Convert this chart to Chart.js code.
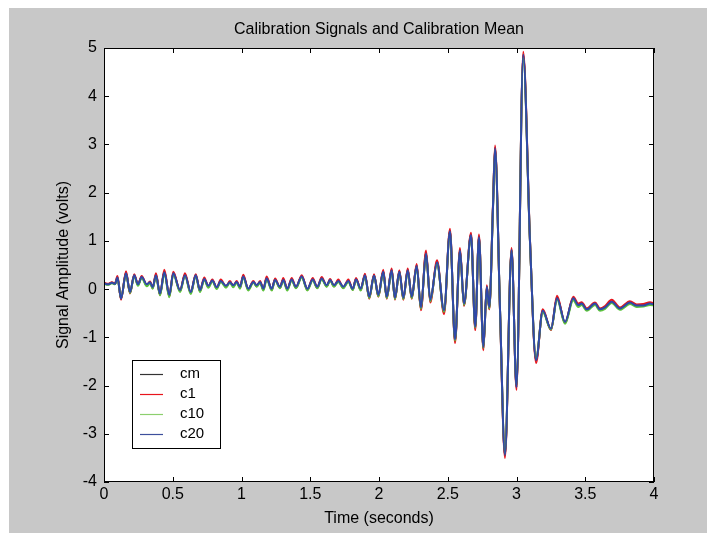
<!DOCTYPE html>
<html>
<head>
<meta charset="utf-8">
<title>Calibration Signals and Calibration Mean</title>
<script src="https://cdn.jsdelivr.net/npm/chart.js@4/dist/chart.umd.min.js"></script>
<style>
  body { margin: 0; background: #ffffff; }
  canvas { display: block; }
</style>
</head>
<body>
<canvas id="myChart" width="707" height="535"></canvas>
<script>
// time axis (seconds), shared by all four signals
const times = [
  0, 0.029, 0.058, 0.08, 0.098, 0.124, 0.16, 0.189, 0.22, 0.247,
  0.274, 0.311, 0.335, 0.354, 0.378, 0.407, 0.439, 0.475, 0.504, 0.553,
  0.589, 0.631, 0.667, 0.698, 0.729, 0.759, 0.788, 0.82, 0.849, 0.887,
  0.916, 0.94, 0.965, 0.989, 1.013, 1.049, 1.086, 1.111, 1.135, 1.159,
  1.183, 1.22, 1.244, 1.28, 1.304, 1.333, 1.365, 1.396, 1.438, 1.479,
  1.518, 1.551, 1.583, 1.62, 1.644, 1.673, 1.704, 1.74, 1.777, 1.809,
  1.833, 1.867, 1.898, 1.929, 1.964, 1.995, 2.031, 2.056, 2.092, 2.116,
  2.148, 2.177, 2.209, 2.238, 2.274, 2.305, 2.342, 2.373, 2.422, 2.473,
  2.516, 2.553, 2.589, 2.618, 2.669, 2.7, 2.727, 2.759, 2.784, 2.802,
  2.829, 2.844, 2.88, 2.916, 2.964, 3.0, 3.049, 3.098, 3.142, 3.191,
  3.251, 3.295, 3.353, 3.413, 3.449, 3.474, 3.511, 3.571, 3.607, 3.644,
  3.692, 3.753, 3.825, 3.874, 3.922, 3.971, 4.0,
];

// calibration mean (volts)
const cm = [
  0.12, 0.10, 0.13, 0.11, 0.24, -0.20, 0.34, -0.07, 0.29, 0.09,
  0.25, 0.08, 0.14, 0.02, 0.30, -0.11, 0.36, -0.14, 0.33, -0.04,
  0.30, -0.08, 0.29, -0.04, 0.21, 0.05, 0.18, 0.02, 0.17, 0.05,
  0.15, 0.06, 0.15, 0.03, 0.27, -0.01, 0.15, 0.06, 0.15, -0.01,
  0.23, -0.01, 0.20, 0.03, 0.20, -0.01, 0.20, 0.03, 0.26, -0.01,
  0.20, 0.03, 0.22, 0.06, 0.19, 0.06, 0.17, 0.03, 0.17, -0.01,
  0.21, -0.01, 0.29, -0.18, 0.29, -0.14, 0.37, -0.18, 0.40, -0.20,
  0.37, -0.20, 0.40, -0.18, 0.49, -0.41, 0.75, -0.25, 0.56, -0.48,
  1.21, -1.08, 0.81, -0.33, 1.13, -0.81, 1.09, -1.23, 0.05, -0.40,
  1.71, 2.93, -0.42, -3.45, 0.82, -2.04, 4.86, 1.00, -1.48, -0.45,
  -0.84, -0.18, -0.70, -0.19, -0.33, -0.30, -0.42, -0.30, -0.42, -0.38,
  -0.26, -0.40, -0.28, -0.34, -0.33, -0.30, -0.32,
];

const c1 = [
  0.13, 0.11, 0.14, 0.12, 0.27, -0.22, 0.37, -0.09, 0.31, 0.09,
  0.27, 0.08, 0.16, 0.02, 0.33, -0.12, 0.40, -0.15, 0.36, -0.04,
  0.33, -0.08, 0.31, -0.04, 0.24, 0.05, 0.20, 0.02, 0.20, 0.05,
  0.17, 0.06, 0.17, 0.03, 0.30, -0.01, 0.17, 0.06, 0.17, -0.01,
  0.26, -0.02, 0.22, 0.03, 0.23, -0.01, 0.23, 0.03, 0.29, -0.02,
  0.23, 0.03, 0.25, 0.06, 0.21, 0.06, 0.20, 0.03, 0.20, -0.01,
  0.23, -0.02, 0.32, -0.20, 0.31, -0.16, 0.40, -0.20, 0.43, -0.22,
  0.39, -0.22, 0.43, -0.20, 0.52, -0.44, 0.80, -0.28, 0.60, -0.52,
  1.25, -1.12, 0.85, -0.35, 1.17, -0.85, 1.13, -1.27, 0.08, -0.42,
  1.75, 2.98, -0.45, -3.50, 0.85, -2.09, 4.92, 1.02, -1.53, -0.42,
  -0.85, -0.14, -0.71, -0.16, -0.30, -0.27, -0.40, -0.28, -0.40, -0.35,
  -0.22, -0.38, -0.25, -0.32, -0.31, -0.27, -0.30,
];

const c10 = [
  0.11, 0.09, 0.12, 0.10, 0.22, -0.19, 0.31, -0.08, 0.27, 0.07,
  0.23, 0.06, 0.12, 0.01, 0.27, -0.13, 0.32, -0.17, 0.31, -0.06,
  0.27, -0.10, 0.27, -0.06, 0.19, 0.03, 0.16, 0.00, 0.15, 0.03,
  0.13, 0.04, 0.13, 0.01, 0.24, -0.03, 0.13, 0.05, 0.13, -0.03,
  0.20, -0.03, 0.18, 0.02, 0.17, -0.03, 0.18, 0.02, 0.24, -0.03,
  0.18, 0.02, 0.20, 0.05, 0.18, 0.05, 0.15, 0.02, 0.15, -0.02,
  0.19, -0.03, 0.27, -0.19, 0.27, -0.15, 0.34, -0.19, 0.37, -0.21,
  0.35, -0.21, 0.37, -0.19, 0.46, -0.41, 0.72, -0.25, 0.53, -0.47,
  1.17, -1.07, 0.78, -0.33, 1.10, -0.80, 1.05, -1.22, 0.03, -0.40,
  1.68, 2.88, -0.42, -3.40, 0.79, -2.00, 4.80, 0.98, -1.44, -0.48,
  -0.84, -0.22, -0.72, -0.23, -0.37, -0.33, -0.45, -0.33, -0.45, -0.41,
  -0.29, -0.43, -0.31, -0.37, -0.36, -0.33, -0.34,
];

const c20 = [
  0.12, 0.10, 0.13, 0.11, 0.24, -0.20, 0.33, -0.06, 0.29, 0.10,
  0.25, 0.10, 0.14, 0.04, 0.29, -0.09, 0.35, -0.12, 0.33, -0.02,
  0.29, -0.06, 0.29, -0.02, 0.21, 0.07, 0.18, 0.04, 0.17, 0.07,
  0.14, 0.08, 0.15, 0.05, 0.26, 0.01, 0.15, 0.08, 0.15, 0.01,
  0.22, 0.01, 0.19, 0.05, 0.19, 0.01, 0.20, 0.05, 0.26, 0.01,
  0.20, 0.05, 0.22, 0.08, 0.19, 0.08, 0.17, 0.05, 0.17, 0.01,
  0.20, 0.01, 0.29, -0.16, 0.28, -0.12, 0.36, -0.16, 0.39, -0.18,
  0.36, -0.18, 0.39, -0.16, 0.48, -0.38, 0.74, -0.22, 0.55, -0.44,
  1.20, -1.04, 0.80, -0.30, 1.12, -0.78, 1.08, -1.20, 0.05, -0.37,
  1.70, 2.92, -0.40, -3.44, 0.81, -2.03, 4.86, 1.00, -1.47, -0.45,
  -0.82, -0.19, -0.68, -0.19, -0.33, -0.30, -0.42, -0.30, -0.42, -0.38,
  -0.26, -0.40, -0.28, -0.34, -0.34, -0.30, -0.32,
];

const seriesNames = ["cm", "c1", "c10", "c20"];
const seriesValues = [cm, c1, c10, c20];
const seriesColors = ["#111111", "#e8141c", "#5cc43c", "#3048a8"];
const seriesWidths = [2, 2, 2, 2];
const legendColors = ["#333333", "#e8141c", "#8ccf6e", "#3d4f9c"];

const titleText = "Calibration Signals and Calibration Mean";
const xTitle = "Time (seconds)";
const yTitle = "Signal Amplitude (volts)";

const FONT = "'Liberation Sans', Arial, sans-serif";

const canvas = document.getElementById("myChart");
const ctx = canvas.getContext("2d");

// grey figure, white axes box, inward ticks, legend and titles (matlab look)
const matlabFrame = {
  id: "matlabFrame",
  beforeDraw(chart) {
    const c = chart.ctx;
    const a = chart.chartArea;
    c.save();
    c.fillStyle = "#ffffff";
    c.fillRect(0, 0, chart.width, chart.height);
    c.fillStyle = "#c8c8c8";
    c.fillRect(9, 8, chart.width - 9, chart.height - 10);
    c.fillStyle = "#ffffff";
    c.fillRect(a.left, a.top, a.right - a.left, a.bottom - a.top);
    c.restore();
  },
  afterDatasetsDraw(chart) {
    const c = chart.ctx;
    const a = chart.chartArea;
    const xs = chart.scales.x;
    const ys = chart.scales.y;
    const tick = 5;
    c.save();
    c.strokeStyle = "#000000";
    c.lineWidth = 1;
    c.strokeRect(a.left + 0.5, a.top + 0.5, a.right - a.left - 1, a.bottom - a.top - 1);

    c.beginPath();
    xs.ticks.forEach((t) => {
      const px = Math.round(xs.getPixelForValue(t.value)) + 0.5;
      c.moveTo(px, a.bottom);
      c.lineTo(px, a.bottom - tick);
      c.moveTo(px, a.top);
      c.lineTo(px, a.top + tick);
    });
    ys.ticks.forEach((t) => {
      const py = Math.round(ys.getPixelForValue(t.value)) + 0.5;
      c.moveTo(a.left, py);
      c.lineTo(a.left + tick, py);
      c.moveTo(a.right, py);
      c.lineTo(a.right - tick, py);
    });
    c.stroke();

    // legend box
    const lx = 132, ly = 360, lw = 88, lh = 88;
    c.fillStyle = "#ffffff";
    c.fillRect(lx, ly, lw, lh);
    c.strokeRect(lx + 0.5, ly + 0.5, lw, lh);
    c.font = "15px " + FONT;
    c.textBaseline = "middle";
    c.textAlign = "left";
    for (let i = 0; i < seriesNames.length; i++) {
      const rowY = 374 + i * 20;
      c.strokeStyle = legendColors[i];
      c.lineWidth = 1.2;
      c.beginPath();
      c.moveTo(140, rowY + 0.5);
      c.lineTo(163, rowY + 0.5);
      c.stroke();
      c.fillStyle = "#000000";
      c.fillText(seriesNames[i], 180, rowY);
    }

    // titles
    c.fillStyle = "#000000";
    c.font = "16px " + FONT;
    c.textAlign = "center";
    c.fillText(titleText, (a.left + a.right) / 2, 30);
    c.fillText(xTitle, (a.left + a.right) / 2, 519);
    c.translate(64, (a.top + a.bottom) / 2);
    c.rotate(-Math.PI / 2);
    c.fillText(yTitle, 0, 0);
    c.restore();
  },
};

const chartInstance = new Chart(ctx, {
  type: "line",
  data: {
    datasets: seriesNames.map((name, i) => ({
      label: name,
      data: times.map((t, k) => ({ x: t, y: seriesValues[i][k] })),
      borderColor: seriesColors[i],
      borderWidth: seriesWidths[i],
      pointRadius: 0,
      cubicInterpolationMode: "monotone",
      fill: false,
      order: seriesNames.length - 1 - i, // c20 ends up on top
    })),
  },
  options: {
    responsive: false,
    animation: false,
    events: [],
    layout: { padding: { left: 0, right: 53, top: 48, bottom: 0 } },
    scales: {
      x: {
        type: "linear",
        min: 0,
        max: 4,
        ticks: {
          stepSize: 0.5,
          color: "#000000",
          font: { family: FONT, size: 16 },
          padding: 3,
          maxRotation: 0,
          callback: (v) => String(v),
        },
        grid: { display: false, drawTicks: false },
        border: { display: false },
        afterFit: (scale) => { scale.height = 53; },
      },
      y: {
        min: -4,
        max: 5,
        ticks: {
          stepSize: 1,
          color: "#000000",
          font: { family: FONT, size: 16 },
          padding: 7,
        },
        grid: { display: false, drawTicks: false },
        border: { display: false },
        afterFit: (scale) => { scale.width = 104; },
      },
    },
    plugins: {
      legend: { display: false },
      tooltip: { enabled: false },
      title: { display: false },
    },
  },
  plugins: [matlabFrame],
});
</script>
</body>
</html>
